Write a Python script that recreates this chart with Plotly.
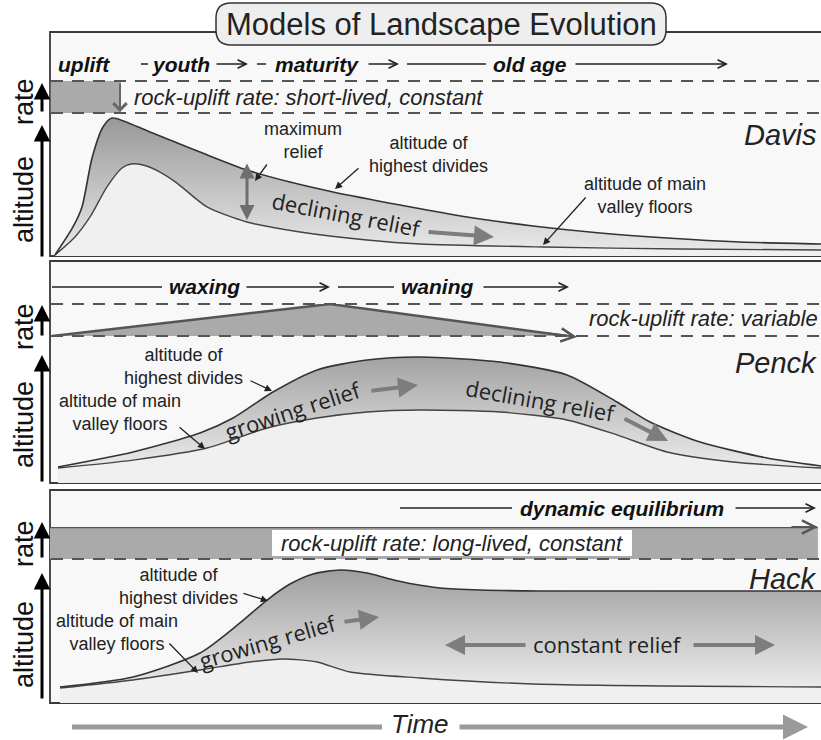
import plotly.graph_objects as go

# ---------------- data (time 0-100, altitude 0-100, rate 0-1) ----------------
davis_t_upper = [0.65, 2.98, 4.15, 5.45, 6.87, 8.04, 12.97, 19.46, 25.55, 31.13, 36.71, 45.40, 54.09, 62.65, 71.34, 80.03, 89.49, 100]
davis_alt_upper = [0.7, 20.3, 34.3, 68.5, 90.2, 96.5, 86.7, 72.7, 60.1, 51.7, 44.8, 35.7, 27.3, 21.0, 16.1, 12.6, 9.8, 8.4]
davis_t_lower = [0.65, 3.24, 5.19, 7.39, 9.34, 10.51, 12.06, 14.27, 16.47, 20.36, 25.55, 32.43, 41.12, 47.99, 63.94, 81.71, 100]
davis_alt_lower = [0.7, 13.3, 27.3, 48.3, 61.5, 64.3, 63.6, 58.7, 51.0, 34.3, 23.8, 16.8, 11.2, 8.4, 6.3, 4.9, 4.2]

penck_t_upper = [1.04, 10.77, 19.46, 23.74, 28.92, 34.63, 41.12, 47.99, 58.37, 67.06, 73.54, 77.82, 84.31, 93.00, 100]
penck_alt_upper = [10.9, 21.1, 34.0, 44.2, 61.9, 76.9, 83.7, 85.7, 82.3, 73.5, 55.1, 41.5, 27.9, 17.0, 11.6]
penck_t_lower = [1.04, 10.77, 20.36, 28.15, 34.63, 41.12, 47.99, 58.37, 67.06, 73.54, 80.03, 88.59, 100]
penck_alt_lower = [10.2, 15.6, 23.8, 37.4, 44.2, 48.3, 49.7, 48.3, 42.9, 32.7, 21.1, 14.3, 10.2]

hack_t_upper = [1.30, 10.77, 19.46, 24.64, 28.15, 31.13, 34.11, 37.61, 41.12, 44.10, 47.08, 50.58, 55.77, 63.55, 100]
hack_alt_upper = [11.1, 18.1, 34.7, 55.6, 71.5, 82.6, 89.6, 92.4, 90.3, 86.1, 82.6, 79.9, 78.5, 77.8, 77.8]
hack_t_lower = [1.30, 10.77, 19.46, 25.94, 30.22, 34.63, 38.91, 47.99, 62.65, 100]
hack_alt_lower = [10.4, 16.0, 22.9, 28.5, 30.6, 28.5, 21.5, 17.4, 13.2, 11.1]

davis_rate_t = [0.1, 9.2]
davis_rate = [1, 1]
penck_rate_t = [0.3, 36.3, 67.1]
penck_rate = [0, 1, 0]
hack_rate_t = [0, 99.6]
hack_rate = [1, 1]

# ---------------- helpers ----------------
W, H = 821, 740
def X(px): return px / W
def Y(py): return 1 - py / H

SANS = "Liberation Sans, Arial, sans-serif"
HUM = "Open Sans, sans-serif"

annotations = []
shapes = []

def text(px, py, s, size, family=SANS, color="#222", angle=0, xanchor="center", yanchor="middle"):
    annotations.append(dict(x=X(px), y=Y(py), xref="paper", yref="paper", text=s, showarrow=False,
                            font=dict(size=size, family=family, color=color), textangle=angle,
                            xanchor=xanchor, yanchor=yanchor))

def arrow(x0, y0, x1, y1, color="#111", width=1.3, head=2, size=1.0, side="end"):
    annotations.append(dict(x=X(x1), y=Y(y1), xref="paper", yref="paper", text="", showarrow=True,
                            ax=x0 - x1, ay=y0 - y1, axref="pixel", ayref="pixel",
                            arrowcolor=color, arrowwidth=width, arrowhead=head, arrowsize=size,
                            startarrowhead=head, startarrowsize=size, arrowside=side, standoff=0, startstandoff=0))

def hline(x0, x1, py, color="#555", width=2, dash=None, layer="above"):
    shapes.append(dict(type="line", xref="paper", yref="paper", x0=X(x0), x1=X(x1), y0=Y(py), y1=Y(py),
                       line=dict(color=color, width=width, dash=dash), layer=layer))

# ---------------- axes ----------------
layout_axes = dict(
    xaxis=dict(domain=[X(50), 1], range=[0, 100], visible=False, fixedrange=True, anchor="y"),
    yaxis=dict(domain=[Y(256), Y(113)], range=[0, 100], visible=False, anchor="x"),
    yaxis2=dict(domain=[Y(113), Y(81)], range=[0, 1], visible=False, anchor="x"),
    yaxis3=dict(domain=[Y(483), Y(336)], range=[0, 100], visible=False, anchor="x"),
    yaxis4=dict(domain=[Y(336), Y(304)], range=[0, 1], visible=False, anchor="x"),
    yaxis5=dict(domain=[Y(703), Y(559)], range=[0, 100], visible=False, anchor="x"),
    yaxis6=dict(domain=[Y(559), Y(527)], range=[0, 1], visible=False, anchor="x"),
)

fig = go.Figure()

def relief(t_lo, a_lo, t_up, a_up, yax, dark):
    fig.add_trace(go.Scatter(x=t_lo, y=a_lo, xaxis="x", yaxis=yax, mode="lines",
                             line=dict(color="#444", width=1.4, shape="spline", smoothing=0.7),
                             fill="tozeroy", fillcolor="#f0f0f0", hoverinfo="skip"))
    fig.add_trace(go.Scatter(x=t_up, y=a_up, xaxis="x", yaxis=yax, mode="lines",
                             line=dict(color="#333", width=1.6, shape="spline", smoothing=0.7),
                             fill="tonexty",
                             fillgradient=dict(type="vertical", colorscale=[[0, "#ebebeb"], [1, dark]]),
                             hoverinfo="skip"))

relief(davis_t_lower, davis_alt_lower, davis_t_upper, davis_alt_upper, "y", "#989898")
relief(penck_t_lower, penck_alt_lower, penck_t_upper, penck_alt_upper, "y3", "#a2a2a2")
relief(hack_t_lower, hack_alt_lower, hack_t_upper, hack_alt_upper, "y5", "#9e9e9e")

fig.add_trace(go.Scatter(x=davis_rate_t, y=davis_rate, xaxis="x", yaxis="y2", mode="lines",
                         line=dict(width=0, color="#aaaaaa"), fill="tozeroy", fillcolor="#aaaaaa", hoverinfo="skip"))
fig.add_trace(go.Scatter(x=penck_rate_t, y=penck_rate, xaxis="x", yaxis="y4", mode="lines",
                         line=dict(width=2.5, color="#555"), fill="tozeroy", fillcolor="#aaaaaa", hoverinfo="skip"))
fig.add_trace(go.Scatter(x=hack_rate_t, y=hack_rate, xaxis="x", yaxis="y6", mode="lines",
                         line=dict(width=2.5, color="#555"), fill="tozeroy", fillcolor="#aaaaaa", hoverinfo="skip"))

# ---------------- panel frames ----------------
for top, bot in [(32, 256), (261, 483), (490, 703)]:
    shapes.append(dict(type="rect", xref="paper", yref="paper", x0=X(50), x1=X(840), y0=Y(bot), y1=Y(top),
                       line=dict(color="#3a3a3a", width=1.8), fillcolor="#f8f8f8", layer="below"))

DASH = "12px,9px"
for py in [81, 113, 304, 336, 559]:
    hline(51, 821, py, color="#555", width=2, dash=DASH)

# Hack label box
shapes.append(dict(type="rect", xref="paper", yref="paper", x0=X(272), x1=X(632), y0=Y(556), y1=Y(530),
                   line=dict(width=0), fillcolor="white", layer="above"))

# title rounded box
x0, x1, yt, yb = X(216), X(666), Y(3), Y(45)
rx, ry = 15 / W, 15 / H
path = (f"M {x0+rx},{yt} L {x1-rx},{yt} Q {x1},{yt} {x1},{yt-ry} L {x1},{yb+ry} Q {x1},{yb} {x1-rx},{yb} "
        f"L {x0+rx},{yb} Q {x0},{yb} {x0},{yb+ry} L {x0},{yt-ry} Q {x0},{yt} {x0+rx},{yt} Z")
shapes.append(dict(type="path", xref="paper", yref="paper", path=path, fillcolor="#eeeeee",
                   line=dict(color="#333", width=1.5), layer="above"))
text(441, 24, "Models of Landscape Evolution", 31, color="#222")

# ---------------- left axis labels ----------------
for cy in [102, 327, 544]:
    text(24, cy, "rate", 27, color="#111", angle=-90)
for cy in [200, 425, 645]:
    text(24, cy, "altitude", 27, color="#111", angle=-90)
for (yb_, yt_) in [(113, 83), (258, 125), (337, 305), (483, 355), (559, 522), (700, 573)]:
    arrow(42, yb_, 42, yt_, color="#000", width=3, head=2, size=1.1)

# ---------------- Davis ----------------
HB = 21
text(84, 64, "<b><i>uplift</i></b>", HB, color="#111")
hline(141, 148, 64, color="#222", width=1.5)
text(181, 64, "<b><i>youth</i></b>", HB, color="#111")
arrow(215, 64, 248, 64, color="#222", width=1.3, head=5, size=1.3)
hline(257, 266, 64, color="#222", width=1.5)
text(317, 64, "<b><i>maturity</i></b>", HB, color="#111")
arrow(367, 64, 399, 64, color="#222", width=1.3, head=5, size=1.3)
hline(407, 486, 64, color="#222", width=1.3)
text(530, 64, "<b><i>old age</i></b>", HB, color="#111")
arrow(574, 64, 728, 64, color="#222", width=1.3, head=5, size=1.3)

arrow(120, 82, 120, 112, color="#666", width=2, head=4, size=1.3)
text(132, 98, "<i>rock-uplift rate: short-lived, constant</i>", 22, color="#222", xanchor="left")
text(819, 135, "<i>Davis</i>", 29, color="#222", xanchor="right")

text(303, 141, "maximum<br>relief", 18, color="#222")
arrow(268, 163, 255, 181, color="#222", width=1.3, head=2, size=1.1)
arrow(247, 162, 247, 220, color="#6e6e6e", width=3, head=2, size=1.0, side="end+start")
text(428, 154, "altitude of<br>highest divides", 18, color="#222")
arrow(360, 167, 335, 189, color="#222", width=1.3, head=2, size=1.1)
text(645, 196, "altitude of main<br>valley floors", 18, color="#222")
arrow(587, 196, 543, 245, color="#222", width=1.3, head=2, size=1.1)
text(346, 214, "declining relief", 22, family=HUM, color="#222", angle=11)
arrow(427, 232, 494, 237, color="#7d7d7d", width=4, head=2, size=1.0)

# ---------------- Penck ----------------
hline(52, 162, 287, color="#222", width=1.3)
text(204, 287, "<b><i>waxing</i></b>", HB, color="#111")
arrow(245, 287, 330, 287, color="#222", width=1.3, head=5, size=1.3)
hline(338, 394, 287, color="#222", width=1.3)
text(437, 287, "<b><i>waning</i></b>", HB, color="#111")
arrow(482, 287, 569, 287, color="#222", width=1.3, head=5, size=1.3)

arrow(545, 333, 577, 337, color="#555", width=2, head=5, size=1.3)
text(820, 319, "<i>rock-uplift rate: variable</i>", 22, color="#222", xanchor="right")
text(819, 363, "<i>Penck</i>", 29, color="#222", xanchor="right")

text(183, 366, "altitude of<br>highest divides", 18, color="#222")
arrow(249, 380, 272, 391, color="#222", width=1.3, head=2, size=1.1)
text(120, 412, "altitude of main<br>valley floors", 18, color="#222")
arrow(178, 426, 205, 449, color="#222", width=1.3, head=2, size=1.1)
text(293, 410, "growing relief", 22, family=HUM, color="#222", angle=-18)
arrow(370, 391, 418, 385, color="#7d7d7d", width=4, head=2, size=1.0)
text(540, 400, "declining relief", 22, family=HUM, color="#222", angle=10)
arrow(623, 418, 668, 441, color="#7d7d7d", width=4, head=2, size=1.0)

# ---------------- Hack ----------------
hline(400, 512, 508, color="#222", width=1.3)
text(622, 508, "<b><i>dynamic equilibrium</i></b>", HB, color="#111")
arrow(734, 508, 816, 508, color="#222", width=1.3, head=5, size=1.3)
arrow(790, 527, 818, 527, color="#555", width=2, head=5, size=1.3)
text(452, 543, "<i>rock-uplift rate: long-lived, constant</i>", 22, color="#222")
text(819, 579, "<i>Hack</i>", 29, color="#222", xanchor="right")

text(178, 586, "altitude of<br>highest divides", 18, color="#222")
arrow(242, 593, 268, 601, color="#222", width=1.3, head=2, size=1.1)
text(117, 632, "altitude of main<br>valley floors", 18, color="#222")
arrow(168, 642, 198, 673, color="#222", width=1.3, head=2, size=1.1)
text(268, 641, "growing relief", 22, family=HUM, color="#222", angle=-16)
arrow(343, 622, 379, 617, color="#7d7d7d", width=4, head=2, size=1.0)
text(607, 644, "constant relief", 22, family=HUM, color="#222")
arrow(527, 645, 445, 645, color="#7d7d7d", width=4, head=2, size=1.0)
arrow(692, 645, 775, 645, color="#7d7d7d", width=4, head=2, size=1.0)

# ---------------- Time ----------------
hline(72, 382, 727, color="#9a9a9a", width=5, layer="above")
text(420, 724, "<i>Time</i>", 26, color="#222")
arrow(458, 727, 808, 727, color="#9a9a9a", width=5, head=2, size=1.0)

fig.update_layout(width=W, height=H, margin=dict(l=0, r=0, t=0, b=0), showlegend=False,
                  paper_bgcolor="white", plot_bgcolor="rgba(0,0,0,0)",
                  annotations=annotations, shapes=shapes, **layout_axes)
fig.write_html("out.html", config={"displayModeBar": False},
               post_script="document.body.style.margin='0';document.body.style.overflow='hidden';")
